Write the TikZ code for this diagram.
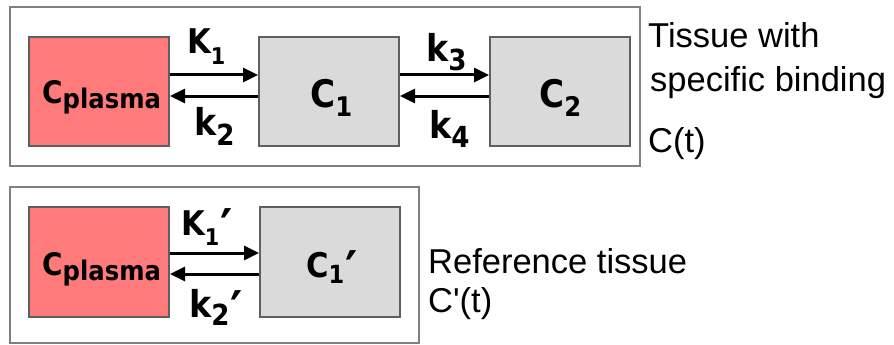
\documentclass[tikz,border=0pt]{standalone}
\usepackage{fontspec}
\usetikzlibrary{arrows.meta}
\newfontfamily\lblfont{DejaVu Sans}[FakeStretch=0.9]
\newfontfamily\rfont{Liberation Sans}[Ligatures=TeXOff]
\definecolor{redfill}{RGB}{255,122,122}
\definecolor{grayfill}{RGB}{218,218,218}
\definecolor{boxline}{RGB}{95,95,95}
\definecolor{outerline}{RGB}{128,128,128}
\newcommand\mylab[5]{{\lblfont\bfseries\fontsize{#1}{#1}\selectfont #2\raisebox{-#5pt}{\fontsize{#3}{#3}\selectfont #4}}}
\newcommand\myprime{{\lblfont\bfseries\fontsize{52}{52}\selectfont\kern1pt\raisebox{-11pt}{′}}}
\tikzset{
  comp/.style={draw=boxline, line width=2pt, minimum width=140pt, minimum height=109pt, inner sep=0pt},
  redcomp/.style={comp, fill=redfill},
  graycomp/.style={comp, fill=grayfill},
  outer/.style={draw=outerline, line width=1.6pt, inner sep=0pt},
  arr/.style={line width=3pt, -{Triangle[length=15pt,width=14pt]}},
  lbl/.style={anchor=base west, inner sep=0pt},
  rtxt/.style={anchor=base west, inner sep=0pt, font=\rfont\fontsize{34.5}{34.5}\selectfont}
}
\begin{document}
\begin{tikzpicture}[x=1pt,y=-1pt]
\useasboundingbox (0,0) rectangle (894,345);
% outer frames
\node[outer, minimum width=630pt, minimum height=159pt] (frameA) at (325,86.5) {};
\node[outer, minimum width=409pt, minimum height=156pt] (frameB) at (214.5,265) {};
% compartments top
\node[redcomp] (cpA) at (99,91.5) {};
\node[graycomp] (cone) at (329,91.5) {};
\node[graycomp] (ctwo) at (560,91.5) {};
% compartments bottom
\node[redcomp, minimum height=110pt] (cpB) at (99,262) {};
\node[graycomp, minimum height=110pt] (conep) at (330,262) {};
% arrows top
\draw[arr] ([yshift=16.5pt]cpA.east) -- ([yshift=16.5pt]cone.west);
\draw[arr] ([yshift=-4.5pt]cone.west) -- ([yshift=-4.5pt]cpA.east);
\draw[arr] ([yshift=16.5pt]cone.east) -- ([yshift=16.5pt]ctwo.west);
\draw[arr] ([yshift=-4.5pt]ctwo.west) -- ([yshift=-4.5pt]cone.east);
% arrows bottom
\draw[arr] ([yshift=9pt]cpB.east) -- ([yshift=9pt]conep.west);
\draw[arr] ([yshift=-12pt]conep.west) -- ([yshift=-12pt]cpB.east);
% labels inside compartments
\node[lbl] (tcpA) at (42,103) {\mylab{31}{C}{27}{plasma}{5}};
\node[lbl] (tcone) at (310,107) {\mylab{38}{C}{27}{1}{9}};
\node[lbl] (tctwo) at (539,107) {\mylab{38}{C}{27}{2}{9}};
\node[lbl] (tcpB) at (42,275) {\mylab{31}{C}{27}{plasma}{5}};
\node[lbl] (tconep) at (306,277) {\mylab{34}{C}{25}{1}{6}\myprime};
% rate labels
\node[lbl] (tK1) at (187,53) {\mylab{34}{K}{23}{1}{12}};
\node[lbl] (tk2) at (194,135) {\mylab{37}{k}{29}{2}{10}};
\node[lbl] (tk3) at (426,62) {\mylab{37}{k}{29}{3}{9}};
\node[lbl] (tk4) at (429,138) {\mylab{37}{k}{29}{4}{9}};
\node[lbl] (tK1p) at (181,235) {\mylab{34}{K}{23}{1}{10}\myprime};
\node[lbl] (tk2p) at (189,317) {\mylab{37}{k}{29}{2}{8}\myprime};
% side texts
\node[rtxt] (s1) at (648,48) {Tissue with};
\node[rtxt] (s2) at (650,92) {specific binding};
\node[rtxt] (s3) at (648,152) {C(t)};
\node[rtxt] (s4) at (428,273) {Reference tissue};
\node[rtxt] (s5) at (428,312) {C'(t)};
\end{tikzpicture}
\end{document}
